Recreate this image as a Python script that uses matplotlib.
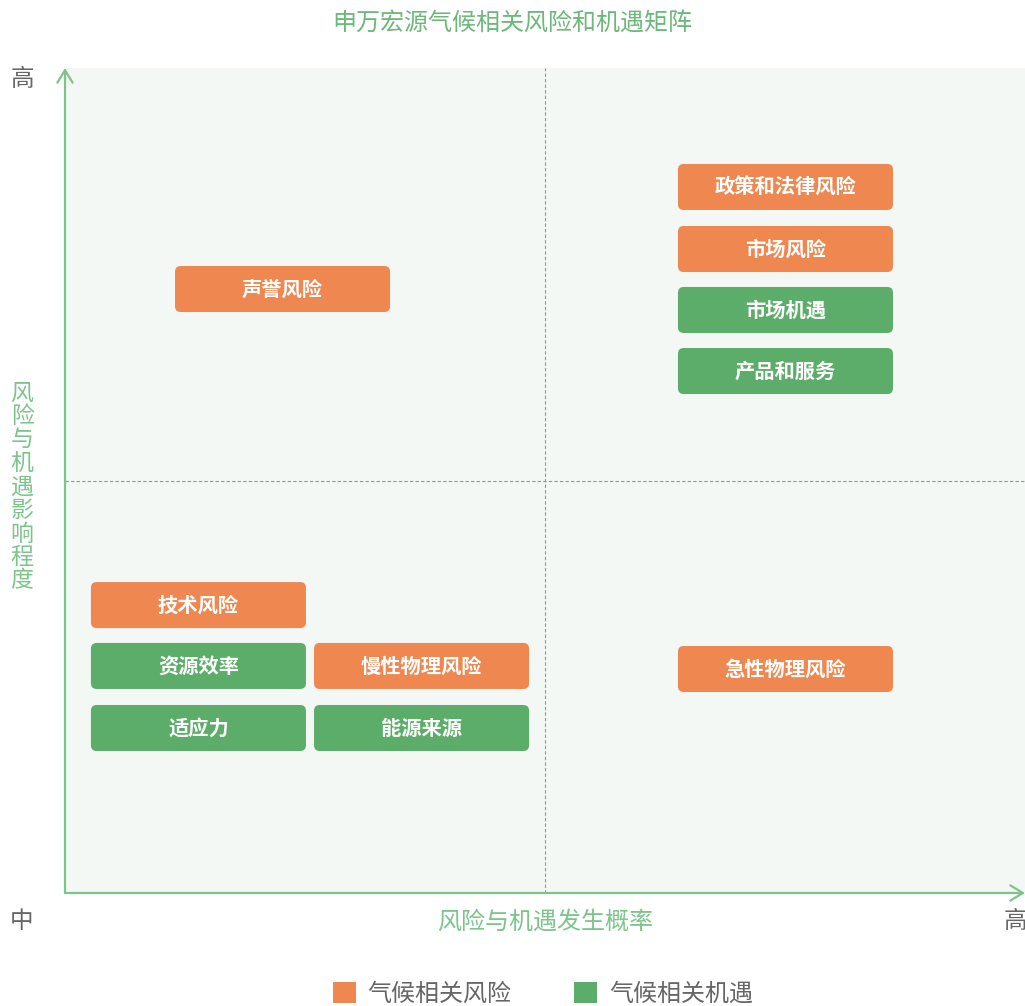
import matplotlib.pyplot as plt
from matplotlib.patches import FancyBboxPatch, Patch

plt.rcParams['font.family'] = ['Noto Sans CJK SC', 'DejaVu Sans']

# Data
labels = ['政策和法律风险', '市场风险', '市场机遇', '产品和服务', '声誉风险',
          '技术风险', '资源效率', '慢性物理风险', '适应力', '能源来源', '急性物理风险']
x_pos = [0.7505, 0.7505, 0.7505, 0.7505, 0.2266,
         0.139, 0.139, 0.3714, 0.139, 0.3714, 0.7505]
y_pos = [0.8558, 0.7806, 0.7067, 0.6327, 0.7321,
         0.349, 0.2752, 0.2752, 0.200, 0.200, 0.2715]
kind = ['risk', 'risk', 'opp', 'opp', 'risk',
        'risk', 'opp', 'risk', 'opp', 'opp', 'risk']

orange = '#EF8750'
green = '#5DAD6A'
colors = {'risk': orange, 'opp': green}
axis_green = '#7DC48C'
grey = '#666666'

box_w, box_h = 0.224, 0.0558

fig = plt.figure(figsize=(10.25, 10.06), dpi=100)
ax = fig.add_axes([65 / 1025, 113 / 1006, 960 / 1025, 825 / 1006])
ax.set_facecolor('#F3F8F4')
ax.set_xlim(0, 1)
ax.set_ylim(0, 1)
for s in ax.spines.values():
    s.set_visible(False)
ax.set_xticks([])
ax.set_yticks([])

# quadrant lines
ax.axvline(0.5, color='#8a9a8e', linestyle=(0, (3, 2)), linewidth=0.8)
ax.axhline(0.5, color='#8a9a8e', linestyle=(0, (3, 2)), linewidth=0.8)

# axes with arrows
arrow = dict(arrowstyle='->,head_length=0.9,head_width=0.55',
             color=axis_green, lw=1.6, shrinkA=0, shrinkB=0)
ax.annotate('', xy=(0, 1.0), xytext=(0, 0), annotation_clip=False, arrowprops=arrow)
ax.annotate('', xy=(1.0, 0), xytext=(0, 0), annotation_clip=False, arrowprops=arrow)

for lab, x, y, k in zip(labels, x_pos, y_pos, kind):
    box = FancyBboxPatch((x - box_w / 2, y - box_h / 2), box_w, box_h,
                         boxstyle='round,pad=0,rounding_size=0.006',
                         mutation_aspect=960 / 825,
                         facecolor=colors[k], edgecolor='none')
    ax.add_patch(box)
    ax.text(x, y, lab, ha='center', va='center', color='white',
            fontsize=14.6, fontweight='bold')

fig.text(512 / 1025, 1 - 24 / 1006, '申万宏源气候相关风险和机遇矩阵', ha='center', va='center',
         color='#6CB87A', fontsize=17.3)
fig.text(545 / 1025, 1 - 922 / 1006, '风险与机遇发生概率', ha='center', va='center',
         color=axis_green, fontsize=17.3)
fig.text(22 / 1025, 1 - 487 / 1006, '\n'.join('风险与机遇影响程度'), ha='center',
         va='center', color=axis_green, fontsize=16.5, linespacing=1.03)
fig.text(22 / 1025, 1 - 80 / 1006, '高', ha='center', va='center', color=grey, fontsize=17)
fig.text(22 / 1025, 1 - 922 / 1006, '中', ha='center', va='center', color=grey, fontsize=17)
fig.text(1015 / 1025, 1 - 922 / 1006, '高', ha='center', va='center', color=grey, fontsize=17)

handles = [Patch(facecolor=orange, edgecolor='none', label='气候相关风险'),
           Patch(facecolor=green, edgecolor='none', label='气候相关机遇')]
fig.legend(handles=handles, loc='center', bbox_to_anchor=(543 / 1025, 1 - 994 / 1006),
           ncol=2, frameon=False, fontsize=17.3, labelcolor=grey,
           handlelength=0.95, handleheight=0.95, handletextpad=0.5, columnspacing=2.6)

fig.savefig('out.png', dpi=100)
